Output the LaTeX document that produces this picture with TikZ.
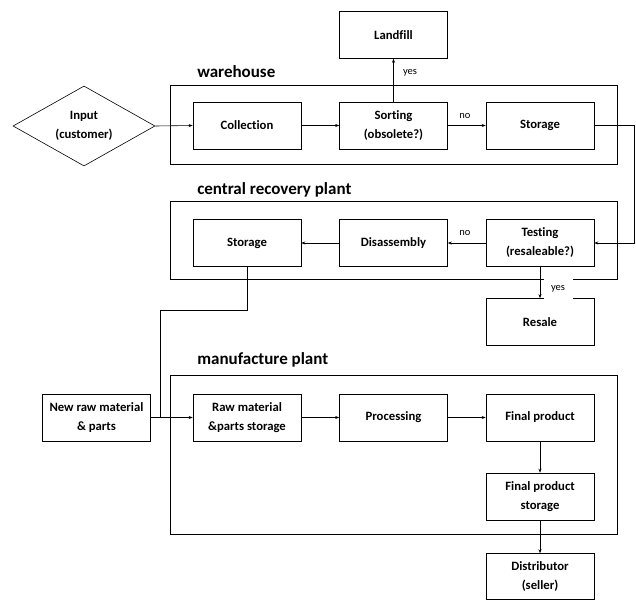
\documentclass[tikz,border=0pt]{standalone}
\usepackage{fontspec}
\setmainfont{Carlito}[Ligatures=NoCommon]
\usetikzlibrary{shapes.geometric,arrows.meta}

\begin{document}
\begin{tikzpicture}[x=1pt,y=-1pt,
        line width=0.6pt,
        box/.style={draw,minimum width=108pt,minimum height=47pt,inner sep=1pt,
            align=center,font=\bfseries\fontsize{12.7}{19}\selectfont},
        grp/.style={anchor=base west,inner sep=0pt,font=\bfseries\fontsize{17}{19}\selectfont},
        lbl/.style={inner sep=1pt,font=\fontsize{10.5}{12}\selectfont},
        arr/.style={-{Stealth[length=4pt,width=3pt]}}]
                \useasboundingbox (0,0) rectangle (636,599);

                % the three plants
                \draw (170,85) rectangle (617,164);
                \draw (170,201) rectangle (617,279);
                \draw (170,375) rectangle (617,534);
                \node[grp] (whlabel) at (197,78) {warehouse};
                \node[grp] (crlabel) at (197,194) {central recovery plant};
                \node[grp] (mplabel) at (197,364) {manufacture plant};

                % boxes
                \node[draw,diamond,aspect=1.775,minimum width=142pt,minimum height=80pt,inner sep=0pt,
                    align=center,font=\bfseries\fontsize{12.7}{19}\selectfont] (input) at (84,126) {Input\\(customer)};
                \node[box] (landfill) at (393.5,35) {Landfill};
                \node[box] (collect) at (247,125.5) {Collection};
                \node[box] (sort) at (393.5,125.5) {Sorting\\(obsolete?)};
                \node[box] (store1) at (540,125.5) {Storage};
                \node[box] (store2) at (247,243) {Storage};
                \node[box] (disasm) at (393.5,243) {Disassembly};
                \node[box] (test) at (540,243) {Testing\\(resaleable?)};
                \node[box] (resale) at (540,322) {Resale};
                \node[box] (newraw) at (96.5,417.5) {New raw material\\\& parts};
                \node[box] (rawstore) at (247,417.5) {Raw material\\\&parts storage};
                \node[box] (process) at (393.5,417.5) {Processing};
                \node[box] (final) at (540,417.5) {Final product};
                \node[box] (finalstore) at (540,496.5) {Final product\\storage};
                \node[box,minimum height=46pt] (distrib) at (540,576.5) {Distributor\\(seller)};

                \coordinate (edge) at (634,180);
                \coordinate (bend) at (160,310);
                \coordinate (join) at (160,417.5);

                % connectors
                \draw[arr] (input.east) -- (collect.west);
                \draw[arr] (collect) -- (sort);
                \draw[arr] (sort) -- (store1);
                \draw[arr] (sort) -- (landfill);
                \draw[arr] (store1.east) -| (edge) |- (test.east);
                \draw[arr] (test) -- (disasm);
                \draw[arr] (disasm) -- (store2);
                \draw[arr] (test) -- (resale);
                \draw (store2.south) |- (bend) -- (join);
                \draw[arr] (newraw) -- (rawstore);
                \draw[arr] (rawstore) -- (process);
                \draw[arr] (process) -- (final);
                \draw[arr] (final) -- (finalstore);
                \draw[arr] (finalstore) -- (distrib);

                \node[lbl] (yes1) at (410,73) {yes};
                \node[lbl] (no1) at (465,116) {no};
                \node[lbl] (no2) at (465,233) {no};
                \node[lbl,fill=white,minimum width=29pt,minimum height=20pt] (yes2) at (558,288.5) {yes};
\end{tikzpicture}
\end{document}
